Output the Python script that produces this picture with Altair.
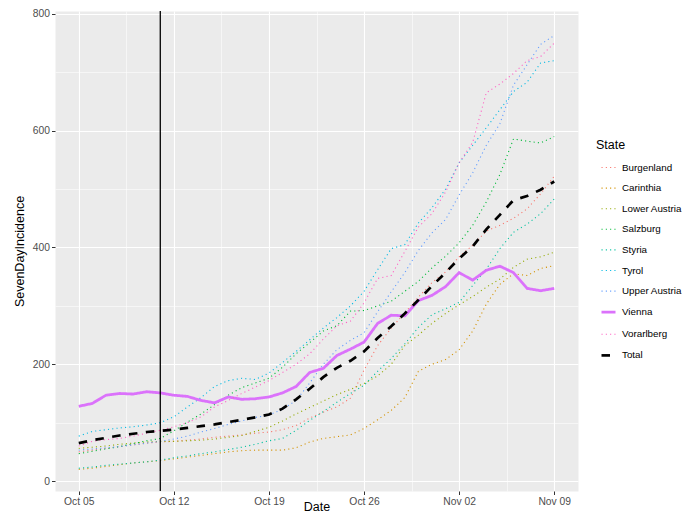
import json
import altair as alt
import pandas as pd

dates = pd.date_range("2020-10-05", "2020-11-09", freq="D")
event_dates = ["2020-10-11"]
tick_labels = ["Oct 05", "Oct 12", "Oct 19", "Oct 26", "Nov 02", "Nov 09"]

states = ["Burgenland", "Carinthia", "Lower Austria", "Salzburg", "Styria",
          "Tyrol", "Upper Austria", "Vienna", "Vorarlberg", "Total"]

burgenland = [50, 53, 56, 59, 62, 65, 67, 68, 70, 72, 75, 77, 79, 82, 84, 88, 95, 108,
              118, 127, 142, 190, 232, 262, 288, 315, 340, 358, 384, 404, 428, 438, 450,
              466, 492, 522]
carinthia = [20, 22, 25, 28, 31, 33, 35, 38, 41, 44, 47, 50, 52, 53, 53, 53, 57, 67,
             73, 76, 79, 90, 105, 121, 143, 188, 200, 208, 225, 257, 303, 337, 355,
             352, 364, 369]
lower_austria = [56, 58, 60, 63, 65, 67, 68, 68, 69, 70, 72, 75, 78, 85, 92, 103, 115,
                 126, 137, 148, 157, 167, 180, 200, 232, 250, 270, 287, 302, 316, 332,
                 346, 366, 380, 384, 392]
salzburg = [47, 51, 55, 59, 64, 69, 73, 86, 101, 115, 131, 147, 160, 168, 176, 195, 218,
            237, 257, 266, 291, 292, 300, 308, 325, 342, 365, 385, 408, 438, 478, 525,
            586, 582, 579, 590]
styria = [22, 24, 27, 29, 31, 33, 36, 40, 43, 47, 50, 54, 58, 63, 69, 73, 87, 104, 119,
          135, 150, 164, 188, 210, 235, 263, 285, 295, 306, 335, 363, 398, 426, 440,
          458, 483]
tyrol = [77, 85, 88, 91, 93, 96, 100, 110, 127, 143, 162, 172, 176, 174, 185, 203, 222,
         242, 262, 280, 300, 325, 362, 398, 405, 442, 468, 500, 545, 575, 605, 636, 667,
         683, 716, 720]
upper_austria = [53, 55, 57, 59, 62, 65, 68, 72, 77, 84, 90, 97, 103, 109, 113, 123, 138,
                 168, 200, 225, 241, 254, 290, 324, 357, 395, 425, 448, 490, 528, 575,
                 612, 678, 713, 748, 763]
vienna = [128, 133, 147, 150, 149, 153, 151, 147, 145, 138, 134, 144, 140, 141, 144, 151,
          162, 186, 193, 215, 226, 238, 270, 284, 283, 309, 318, 333, 357, 344, 361, 368,
          357, 330, 326, 330]
vorarlberg = [60, 68, 71, 73, 77, 82, 87, 93, 100, 110, 127, 138, 150, 161, 172, 186,
              200, 218, 243, 266, 274, 305, 347, 352, 393, 435, 458, 495, 545, 580, 665,
              680, 698, 720, 727, 750]
total = [65, 70, 74, 78, 81, 84, 86, 88, 91, 94, 97, 101, 105, 109, 114, 124, 140, 158,
         178, 194, 206, 222, 245, 265, 287, 310, 334, 357, 381, 402, 431, 456, 481, 488,
         499, 513]

series = [burgenland, carinthia, lower_austria, salzburg, styria, tyrol,
          upper_austria, vienna, vorarlberg, total]

colors = ["#F8766D", "#D39200", "#93AA00", "#00BA38", "#00C19F", "#00B9E3",
          "#619CFF", "#DB72FB", "#FF61C3", "#000000"]
dot = [1.1, 3.2]
dashes = [dot, dot, dot, dot, dot, dot, dot, [1, 0], dot, [8.5, 8.5]]
widths = [1.1, 1.1, 1.1, 1.1, 1.1, 1.1, 1.1, 2.8, 1.1, 2.7]

start = dates[0]
rows = []
for name, vals in zip(states, series):
    for d, v in zip(dates, vals):
        rows.append({"State": name, "day": (d - start).days, "SevenDayIncidence": v})
df = pd.DataFrame(rows)
events = pd.DataFrame({"day": [(pd.Timestamp(e) - start).days for e in event_dates]})

n_days = (dates[-1] - start).days
x_ticks = [i * 3.5 for i in range(int(n_days / 3.5) + 1)]
y_ticks = list(range(0, 801, 100))

major_x = "datum.value % 7 === 0"
major_y = "datum.value % 200 === 0"

x_axis = alt.Axis(
    title="Date", values=x_ticks,
    labelExpr=f"{major_x} ? {json.dumps(tick_labels)}[datum.value / 7] : ''",
    labelFlush=False, labelOverlap=False,
    gridWidth={"condition": {"test": major_x, "value": 1.1}, "value": 0.55},
    tickOpacity={"condition": {"test": major_x, "value": 1}, "value": 0},
    titleBaseline="alphabetic", titleY=19.5,
)
y_axis = alt.Axis(
    title="SevenDayIncidence", values=y_ticks,
    labelExpr=f"{major_y} ? datum.label : ''",
    labelFlush=False, labelOverlap=False,
    gridWidth={"condition": {"test": major_y, "value": 1.1}, "value": 0.55},
    tickOpacity={"condition": {"test": major_y, "value": 1}, "value": 0},
)

legend = alt.Legend(title="State", orient="none", legendX=541, legendY=128,
                    symbolType="stroke", symbolSize=196, symbolOffset=4,
                    rowPadding=7.6, labelOffset=5, labelFontSize=9.8,
                    titleFontSize=12.5, titleFontWeight="normal", titlePadding=8,
                    labelColor="#000000", titleColor="#000000")

x = alt.X("day:Q", axis=x_axis, scale=alt.Scale(domain=[-1.75, n_days + 1.75], nice=False, zero=False))
y = alt.Y("SevenDayIncidence:Q", axis=y_axis, scale=alt.Scale(domain=[-17, 805], nice=False, zero=False))
enc = dict(
    x=x, y=y,
    color=alt.Color("State:N", scale=alt.Scale(domain=states, range=colors), legend=legend),
    strokeDash=alt.StrokeDash("State:N", scale=alt.Scale(domain=states, range=dashes), legend=legend),
    strokeWidth=alt.StrokeWidth("State:N", scale=alt.Scale(type="ordinal", domain=states, range=widths), legend=legend),
    detail="State:N",
)

states_layer = alt.Chart(df[df.State != "Total"]).mark_line().encode(**enc)
total_layer = alt.Chart(df[df.State == "Total"]).mark_line().encode(**enc)
vline = alt.Chart(events).mark_rule(color="black", strokeWidth=1.3).encode(x="day:Q")

chart = alt.layer(states_layer, total_layer, vline).properties(
    width=523, height=480,
    padding={"left": 47, "top": 3, "right": 108, "bottom": 24},
    autosize=alt.AutoSizeParams(type="none"),
).configure(font="Liberation Sans").configure_view(
    fill="#EBEBEB", stroke="transparent"
).configure_axis(
    domain=False, gridColor="#FFFFFF", tickColor="#333333", tickSize=3.5,
    labelColor="#4D4D4D", labelFontSize=10.3, titleFontSize=12.5,
    titleFontWeight="normal", titleColor="#000000", labelPadding=2,
).configure_axisY(titlePadding=6)

chart.save("out.html", embed_options={"renderer": "svg", "actions": False})
